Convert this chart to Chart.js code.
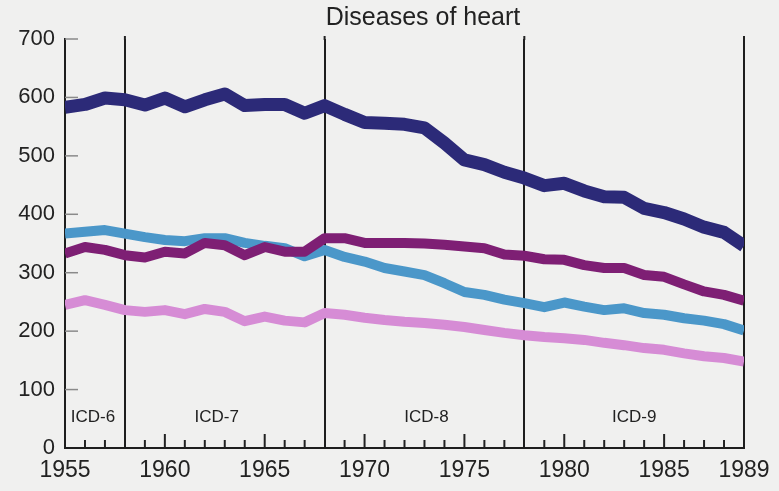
<!DOCTYPE html>
<html>
<head>
<meta charset="utf-8">
<script src="https://cdn.jsdelivr.net/npm/chart.js@4"></script>
<style>
  html, body { margin: 0; padding: 0; background: #f0f0ef; }
  #wrap { width: 779px; height: 491px; position: relative; }
</style>
</head>
<body>
<div id="wrap"><canvas id="heart"></canvas></div>
<script>
// years on the x axis
const years = [];
for (let y = 1955; y <= 1989; y++) years.push(y);
const labelYears = [1955, 1960, 1965, 1970, 1975, 1980, 1985, 1989];
const revisionYears = [1958, 1968, 1978, 1989];
const yTicks = [0, 100, 200, 300, 400, 500, 600, 700];

const revisions = [
  { text: "ICD-6", x: 1956.4 },
  { text: "ICD-7", x: 1962.6 },
  { text: "ICD-8", x: 1973.1 },
  { text: "ICD-9", x: 1983.5 }
];

// rates
const navySeries = [583, 588, 599, 596, 587, 599, 584, 596, 606, 586, 588, 588, 573, 586, 571, 557, 556, 554, 548, 522,
  493, 485, 472, 462, 449, 453, 440, 430, 429, 410, 403, 392, 378, 369, 346];
const purpleSeries = [333, 344, 339, 330, 326, 336, 333, 351, 347, 330, 344, 336, 336, 359, 359, 351, 351, 351, 350, 348,
  345, 342, 331, 329, 323, 322, 313, 308, 308, 296, 293, 280, 268, 262, 252];
const blueSeries = [367, 370, 373, 367, 361, 356, 354, 359, 359, 351, 346, 342, 328, 339, 327, 319, 308, 302, 296, 282,
  267, 262, 254, 248, 241, 249, 242, 236, 239, 231, 228, 222, 218, 212, 201];
const pinkSeries = [245, 253, 245, 236, 233, 236, 229, 238, 233, 217, 225, 218, 215, 231, 228, 223, 219, 216, 214, 211,
  207, 202, 197, 193, 190, 188, 185, 180, 176, 171, 168, 162, 157, 154, 148];

const pts = arr => arr.map((v, i) => ({ x: years[i], y: v }));
const font = "'Liberation Sans', Arial, sans-serif";

const decorations = {
  id: "decorations",
  afterDatasetsDraw(chart) {
    const { ctx, chartArea, scales } = chart;
    const xs = scales.x, ys = scales.y;
    ctx.save();
    // y ticks pointing into the plot
    ctx.strokeStyle = "#8a8a8a";
    ctx.lineWidth = 1.5;
    yTicks.forEach(v => {
      if (v === 0) return;
      const py = ys.getPixelForValue(v);
      ctx.beginPath();
      ctx.moveTo(chartArea.left, py);
      ctx.lineTo(chartArea.left + 13, py);
      ctx.stroke();
    });
    // x ticks pointing up
    ctx.strokeStyle = "#222";
    ctx.lineWidth = 2;
    years.forEach(yr => {
      if (yr === 1955 || revisionYears.includes(yr)) return;
      const px = xs.getPixelForValue(yr);
      const len = yr % 5 === 0 ? 14 : 8;
      ctx.beginPath();
      ctx.moveTo(px, chartArea.bottom);
      ctx.lineTo(px, chartArea.bottom - len);
      ctx.stroke();
    });
    // revision lines reach a little above the plot
    revisionYears.forEach(yr => {
      const px = xs.getPixelForValue(yr);
      ctx.beginPath();
      ctx.moveTo(px, chartArea.top - 3);
      ctx.lineTo(px, chartArea.top + 1);
      ctx.stroke();
    });
    // revision labels
    ctx.fillStyle = "#222";
    ctx.font = "17px " + font;
    ctx.textAlign = "center";
    ctx.textBaseline = "middle";
    revisions.forEach(r => {
      ctx.fillText(r.text, xs.getPixelForValue(r.x), ys.getPixelForValue(52));
    });
    // title
    ctx.font = "25px " + font;
    ctx.fillText("Diseases of heart", 423, 18);
    ctx.restore();
  }
};

new Chart(document.getElementById("heart"), {
  type: "line",
  data: {
    datasets: [
      { data: pts(navySeries), borderColor: "#2c2a78", borderWidth: 13 },
      { data: pts(purpleSeries), borderColor: "#7e1f74", borderWidth: 10 },
      { data: pts(blueSeries), borderColor: "#4b97c9", borderWidth: 10 },
      { data: pts(pinkSeries), borderColor: "#d68cd5", borderWidth: 10 }
    ]
  },
  options: {
    responsive: true,
    maintainAspectRatio: false,
    animation: false,
    layout: { padding: { top: 39, right: 35, left: 0, bottom: 0 } },
    elements: {
      point: { radius: 0 },
      line: { tension: 0, borderJoinStyle: "round", borderCapStyle: "butt" }
    },
    plugins: { legend: { display: false }, title: { display: false }, tooltip: { enabled: false } },
    scales: {
      x: {
        type: "linear",
        min: 1955,
        max: 1989,
        afterFit: s => { s.height = 43; },
        afterBuildTicks: s => { s.ticks = years.map(v => ({ value: v })); },
        ticks: {
          autoSkip: false,
          maxRotation: 0,
          padding: 9,
          color: "#222",
          font: { family: font, size: 23 },
          callback: v => labelYears.includes(v) ? String(v) : ""
        },
        grid: {
          drawTicks: false,
          lineWidth: 2,
          color: c => revisionYears.includes(c.tick && c.tick.value) ? "#1e1e1e" : "rgba(0,0,0,0)"
        },
        border: { color: "#1e1e1e", width: 2 }
      },
      y: {
        min: 0,
        max: 700,
        afterFit: s => { s.width = 65; },
        afterBuildTicks: s => { s.ticks = yTicks.map(v => ({ value: v })); },
        ticks: { padding: 10, color: "#222", font: { family: font, size: 22 } },
        grid: { display: false, drawTicks: false },
        border: { color: "#1e1e1e", width: 2 }
      }
    }
  },
  plugins: [decorations]
});
</script>
</body>
</html>
